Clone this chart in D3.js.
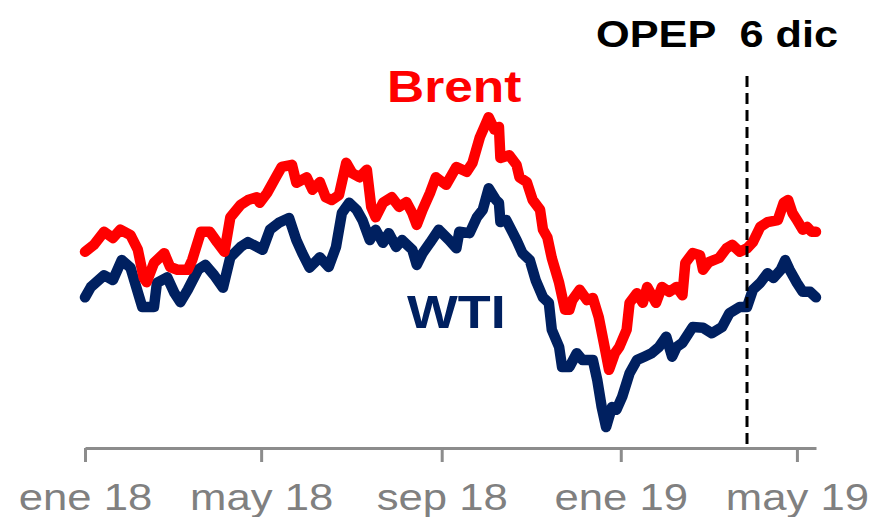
<!DOCTYPE html>
<html>
<head>
<meta charset="utf-8">
<script src="https://cdn.jsdelivr.net/npm/d3@7"></script>
<style>
  body { margin: 0; background: #fff; }
  text { font-family: "Liberation Sans", Arial, sans-serif; }
</style>
</head>
<body>
<svg id="chart" width="881" height="517"></svg>
<script>
/// Brent and WTI prices (USD/barrel)
var brentDates = ["2018-01-01","2018-01-07","2018-01-14","2018-01-20","2018-01-25","2018-02-01","2018-02-06","2018-02-10","2018-02-12","2018-02-17","2018-02-24","2018-02-28","2018-03-05","2018-03-12","2018-03-15","2018-03-21","2018-03-27","2018-04-01","2018-04-06","2018-04-10","2018-04-17","2018-04-22","2018-04-28","2018-04-30","2018-05-05","2018-05-11","2018-05-15","2018-05-22","2018-05-25","2018-06-01","2018-06-05","2018-06-10","2018-06-14","2018-06-18","2018-06-23","2018-06-28","2018-07-02","2018-07-07","2018-07-12","2018-07-15","2018-07-18","2018-07-23","2018-07-29","2018-08-03","2018-08-08","2018-08-12","2018-08-15","2018-08-19","2018-08-24","2018-08-28","2018-09-04","2018-09-11","2018-09-18","2018-09-22","2018-09-27","2018-10-03","2018-10-07","2018-10-10","2018-10-11","2018-10-17","2018-10-22","2018-10-24","2018-10-29","2018-11-02","2018-11-07","2018-11-09","2018-11-12","2018-11-15","2018-11-20","2018-11-24","2018-11-27","2018-11-29","2018-12-04","2018-12-09","2018-12-13","2018-12-17","2018-12-21","2018-12-24","2018-12-28","2018-12-31","2019-01-05","2019-01-07","2019-01-12","2019-01-16","2019-01-19","2019-01-25","2019-01-29","2019-02-03","2019-02-08","2019-02-12","2019-02-14","2019-02-19","2019-02-24","2019-02-26","2019-03-02","2019-03-09","2019-03-14","2019-03-18","2019-03-23","2019-03-28","2019-04-01","2019-04-06","2019-04-11","2019-04-18","2019-04-22","2019-04-25","2019-04-28","2019-05-01","2019-05-05","2019-05-08","2019-05-11","2019-05-14"];
var brentValues = [66.9,67.9,69.8,68.9,70.1,69.3,67.2,63.1,62.5,65.3,66.7,64.7,64.3,64.3,65.7,69.8,69.8,68.3,66.9,71.9,73.7,74.4,74.8,74.0,75.4,77.7,79.2,79.5,76.9,77.7,75.9,77.0,74.8,74.4,75.1,79.8,78.3,77.7,78.8,73.4,71.9,74.0,74.8,73.4,74.1,72.5,70.8,73.0,75.4,77.7,76.6,79.2,78.5,79.8,83.5,86.4,84.6,85.0,80.5,80.9,79.5,77.7,77.0,74.4,73.0,70.1,69.0,66.0,62.4,58.5,58.5,59.9,61.4,59.9,60.2,57.4,53.1,49.8,52.2,53.1,55.6,59.5,60.9,59.5,61.8,59.5,61.8,61.1,61.8,60.6,65.3,66.7,66.4,64.3,65.4,66.0,67.4,67.9,66.9,67.4,68.3,70.5,71.2,71.5,74.0,74.4,72.5,71.5,70.1,70.5,69.8,69.8];

var wtiDates = ["2018-01-01","2018-01-05","2018-01-14","2018-01-20","2018-01-26","2018-02-01","2018-02-07","2018-02-09","2018-02-17","2018-02-19","2018-02-26","2018-03-03","2018-03-07","2018-03-12","2018-03-19","2018-03-24","2018-03-30","2018-04-05","2018-04-10","2018-04-17","2018-04-22","2018-05-02","2018-05-07","2018-05-13","2018-05-20","2018-05-25","2018-05-29","2018-06-03","2018-06-10","2018-06-16","2018-06-21","2018-06-25","2018-06-30","2018-07-05","2018-07-09","2018-07-14","2018-07-18","2018-07-23","2018-07-27","2018-08-01","2018-08-05","2018-08-12","2018-08-15","2018-08-19","2018-08-24","2018-08-30","2018-09-06","2018-09-11","2018-09-13","2018-09-20","2018-09-25","2018-09-29","2018-10-03","2018-10-08","2018-10-10","2018-10-11","2018-10-15","2018-10-22","2018-10-26","2018-10-31","2018-11-04","2018-11-09","2018-11-13","2018-11-15","2018-11-20","2018-11-22","2018-11-27","2018-12-02","2018-12-06","2018-12-13","2018-12-16","2018-12-19","2018-12-22","2018-12-26","2018-12-29","2019-01-02","2019-01-07","2019-01-12","2019-01-17","2019-01-22","2019-01-27","2019-02-01","2019-02-05","2019-02-08","2019-02-12","2019-02-19","2019-02-26","2019-03-04","2019-03-11","2019-03-16","2019-03-23","2019-03-28","2019-04-01","2019-04-06","2019-04-11","2019-04-15","2019-04-20","2019-04-23","2019-04-26","2019-05-01","2019-05-05","2019-05-10","2019-05-14"];
var wtiValues = [60.3,61.8,63.5,62.8,65.7,64.6,60.3,58.9,58.9,62.4,63.2,60.9,59.6,61.4,64.3,65.0,63.5,61.7,66.1,67.6,68.3,67.2,70.1,71.1,71.8,68.6,66.7,64.6,66.1,64.7,67.6,72.5,74.0,73.0,71.5,68.6,70.1,68.2,69.6,67.6,68.6,67.2,65.0,66.7,68.2,70.1,68.6,67.4,69.8,69.6,71.9,73.0,76.1,74.4,74.0,71.2,71.5,68.6,66.7,65.7,62.8,60.3,59.5,55.6,53.1,50.2,50.2,52.2,51.2,51.2,48.3,44.4,41.5,44.4,44.0,45.9,49.3,51.2,51.7,52.2,53.1,54.6,51.7,53.1,53.7,56.0,55.9,55.1,56.0,58.0,58.9,58.9,61.4,62.4,63.8,63.1,64.3,65.7,64.3,62.4,61.1,61.1,60.3];

var tickDates = ["2018-01-01","2018-05-01","2018-09-01","2019-01-01","2019-05-01"];
var tickLabels = ["ene 18","may 18","sep 18","ene 19","may 19"];

var eventDate = "2019-03-28";
var eventLabel = "OPEP  6 dic";

var parse = d3.timeParse("%Y-%m-%d");

var svg = d3.select("#chart");

var x = d3.scaleTime()
    .domain([parse("2018-01-01"), parse("2019-05-14")])
    .range([85, 816]);

var y = d3.scaleLinear()   /// no visible y axis
    .domain([40, 86])
    .range([437.4, 120]);

var line = d3.line()
    .x(d => x(d[0]))
    .y(d => y(d[1]));

function pairs(dates, vals){
    return dates.map((d,i) => [parse(d), vals[i]]);
}

/// Axis
var axis = d3.axisBottom(x)
    .tickValues(tickDates.map(parse))
    .tickFormat((d,i) => tickLabels[i])
    .tickSizeInner(14)
    .tickSizeOuter(0);

var gx = svg.append("g")
    .attr("transform", "translate(0,448)")
    .call(axis);

gx.select(".domain")
    .attr("stroke", "#8c8c8c")
    .attr("stroke-width", 3);
gx.selectAll(".tick line")
    .attr("stroke", "#8c8c8c")
    .attr("stroke-width", 3);
gx.selectAll(".tick text")
    .attr("y", 62)
    .attr("dy", 0)
    .attr("fill", "#808080")
    .attr("font-size", 37)
    .attr("transform", "scale(1.18,1)");

/// Series (WTI under Brent)
svg.append("path")
    .datum(pairs(wtiDates, wtiValues))
    .attr("d", line)
    .attr("fill", "none")
    .attr("stroke", "#002060")
    .attr("stroke-width", 10.5)
    .attr("stroke-linejoin", "round")
    .attr("stroke-linecap", "round");

svg.append("path")
    .datum(pairs(brentDates, brentValues))
    .attr("d", line)
    .attr("fill", "none")
    .attr("stroke", "#ff0000")
    .attr("stroke-width", 10.5)
    .attr("stroke-linejoin", "round")
    .attr("stroke-linecap", "round");

/// OPEC marker
svg.append("line")
    .attr("x1", x(parse(eventDate)))
    .attr("x2", x(parse(eventDate)))
    .attr("y1", 76)
    .attr("y2", 448)
    .attr("stroke", "#000")
    .attr("stroke-width", 3)
    .attr("stroke-dasharray", "11,6");

function label(txt, tx, ty, size, color){
    svg.append("text")
        .attr("transform", "translate(" + tx + "," + ty + ") scale(1.17,1)")
        .attr("font-size", size)
        .attr("font-weight", "bold")
        .attr("fill", color)
        .style("white-space", "pre")
        .text(txt);
}

label(eventLabel, 596, 47, 37, "#000");
label("Brent", 387, 102, 44, "#ff0000");
label("WTI", 407, 328, 46, "#002060");
</script>
</body>
</html>
